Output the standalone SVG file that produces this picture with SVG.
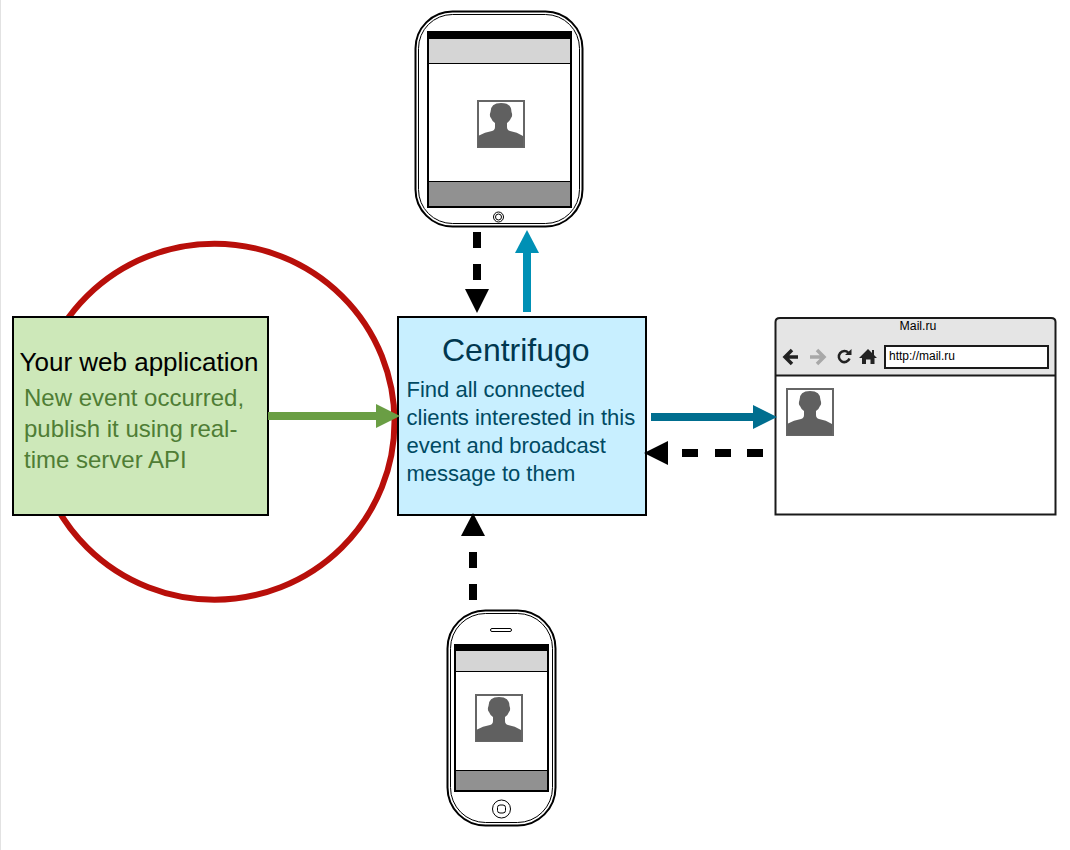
<svg xmlns="http://www.w3.org/2000/svg" xmlns:xlink="http://www.w3.org/1999/xlink" width="1070" height="850" viewBox="0 0 1070 850">
<style>
text{font-family:"Liberation Sans",Arial,sans-serif}
.box{stroke:#000;stroke-width:2}
.dash{stroke:#000;stroke-width:8;fill:none}
.shell{fill:#fff;stroke:#000}
.thin{fill:none;stroke:#000;stroke-width:1}
.t{font-size:24px;fill:#4f7d35}
.c{font-size:22px;fill:#004a63}
</style>
<defs>
<g id="person">
<rect x="1" y="1" width="46" height="46" fill="#fff" stroke="#666" stroke-width="2"/>
<path d="M1 47V36Q8 32 15 31Q18 30 18 27V23Q15 21 14 18Q12 16 13.500 12Q13.500 3 24 3Q34.500 3 34.500 12Q36 16 34 18Q33 21 30 23V27Q30 30 33 31Q40 32 46 36V47Z" fill="#606060"/>
</g>
</defs>
<rect width="1070" height="850" fill="#fff"/>
<rect x="0" y="0" width="1" height="850" fill="#e2e2e2"/>
<ellipse id="ring" cx="214.500" cy="421.700" rx="180" ry="178" fill="none" stroke="#b80f0a" stroke-width="6"/>
<g id="web-application">
<rect class="box" x="13" y="317" width="255" height="198" fill="#cde8b9"/>
<text x="19.500" y="371" font-size="26" fill="#000">Your web application</text>
<text class="t" x="24" y="406">New event occurred,</text>
<text class="t" x="24" y="437">publish it using real-</text>
<text class="t" x="24" y="468">time server API</text>
</g>
<g id="centrifugo">
<rect class="box" x="398" y="317" width="248" height="198" fill="#c8efff"/>
<text x="442" y="361" font-size="32" fill="#00374f">Centrifugo</text>
<text class="c" x="406.500" y="397">Find all connected</text>
<text class="c" x="406.500" y="425">clients interested in this</text>
<text class="c" x="406.500" y="453">event and broadcast</text>
<text class="c" x="406.500" y="481">message to them</text>
</g>
<g id="tablet">
<rect class="shell" x="415.500" y="11.500" width="167" height="215" rx="37" stroke-width="2"/>
<rect class="thin" x="418.500" y="14.500" width="161" height="209" rx="34" stroke="#555"/>
<rect x="427" y="31" width="145" height="177" fill="#000"/>
<rect x="429" y="39" width="141" height="24" fill="#d5d5d5"/>
<rect x="429" y="64" width="141" height="117" fill="#fff"/>
<rect x="429" y="182" width="141" height="24" fill="#919191"/>
<use xlink:href="#person" href="#person" x="477" y="100"/>
<circle class="thin" cx="498.500" cy="217" r="5"/>
<circle class="thin" cx="498.500" cy="217" r="3"/>
</g>
<g id="phone">
<rect class="shell" x="447.500" y="610.500" width="108" height="215" rx="38" stroke-width="2"/>
<rect class="thin" x="450.500" y="613.500" width="102" height="209" rx="35"/>
<rect x="490.500" y="628.500" width="21" height="3" rx="1.500" class="thin"/>
<rect x="454" y="644" width="95" height="148" fill="#000"/>
<rect x="456" y="651" width="91" height="20" fill="#d5d5d5"/>
<rect x="456" y="672" width="91" height="98" fill="#fff"/>
<rect x="456" y="771" width="91" height="19" fill="#919191"/>
<use xlink:href="#person" href="#person" x="475" y="694"/>
<circle class="thin" cx="501.500" cy="809" r="9"/>
<rect class="thin" x="497.500" y="805" width="8" height="8" rx="2.500"/>
</g>
<g id="browser">
<path d="M775 375V322Q775 317 780 317H1051Q1056 317 1056 322V375Z" fill="#e5e5e5"/>
<path d="M775.500 375.500V322Q775.500 318 780 318H1051Q1055.500 318 1055.500 322V514.500H775.500V375.500H1055.500" fill="none" stroke="#1a1a1a" stroke-width="2"/>
<text x="918" y="330" font-size="12.300" text-anchor="middle" fill="#000">Mail.ru</text>
<path d="M798 357H786M792 350L785 357L792 364" fill="none" stroke="#222" stroke-width="3.500"/>
<path d="M810 357H823M817 350L824 357L817 364" fill="none" stroke="#a8a8a8" stroke-width="3.500"/>
<path d="M848.500 353A5.500 5.500 0 1 0 849.500 358.500" fill="none" stroke="#222" stroke-width="2.500"/>
<path d="M845 355H851.500V349Z" fill="#222"/>
<path d="M868 349L872 353V350H874V355L877 358H874.500V364H870.500V359.500H866V364H862V358H859Z" fill="#222"/>
<rect x="885" y="346" width="163" height="22" fill="#fff" stroke="#1a1a1a" stroke-width="2"/>
<text x="889" y="360" font-size="12" fill="#000">http://mail.ru</text>
<use xlink:href="#person" href="#person" x="786" y="388"/>
</g>
<g id="connectors">
<path d="M268 416H378" stroke="#6a9e44" stroke-width="8" fill="none"/>
<path d="M376 404L400 416L376 428Z" fill="#6a9e44"/>
<path d="M527 312V251" stroke="#0090b5" stroke-width="8" fill="none"/>
<path d="M515 253L527 230L539 253Z" fill="#0090b5"/>
<path d="M651 417H755" stroke="#006e8f" stroke-width="8" fill="none"/>
<path d="M753 405L777 417L753 429Z" fill="#006e8f"/>
<path class="dash" d="M477 232V248M477 264V280"/>
<path d="M465 289H489L477 313Z" fill="#000"/>
<path class="dash" d="M473 600V584M473 568V552"/>
<path d="M461 536H485L473 513Z" fill="#000"/>
<path class="dash" d="M763 453H747M731 453H715M698 453H682"/>
<path d="M668 441V465L644 453Z" fill="#000"/>
</g>
</svg>
